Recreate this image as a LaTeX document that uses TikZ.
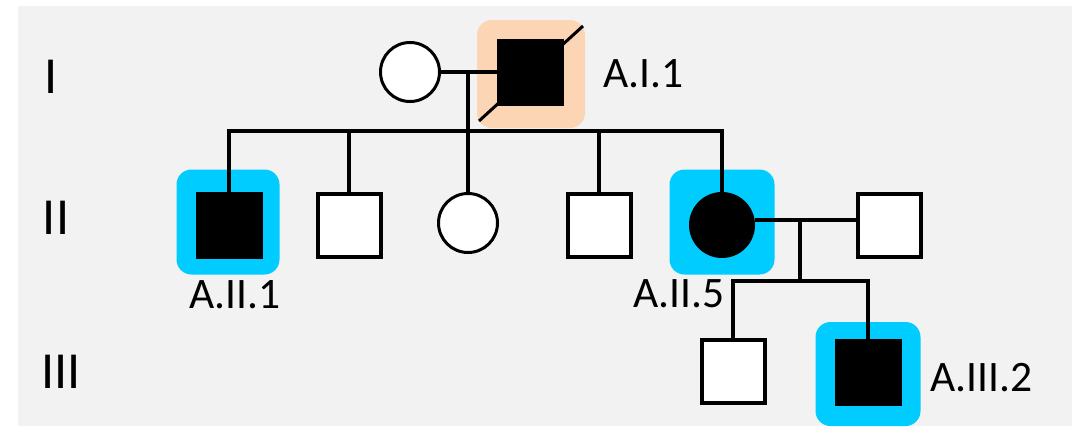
\documentclass[tikz,border=0pt]{standalone}
\usepackage{fontspec}
\setmainfont{Carlito}
\definecolor{bgray}{HTML}{F2F2F2}
\definecolor{peach}{HTML}{FCD5B5}
\definecolor{cyanb}{HTML}{00CCFF}
\begin{document}
\begin{tikzpicture}[x=1pt,y=-1pt,
  person/.style={draw=black,inner sep=0pt,line width=4pt},
  male/.style={person,rectangle,minimum size=63pt,fill=white},
  female/.style={person,circle,minimum size=59pt,line width=3pt,fill=white},
  affected/.style={fill=black},
  hl/.style={rectangle,rounded corners=15pt,inner sep=0pt,minimum width=105pt,minimum height=105pt},
  link/.style={line width=3.5pt},
  sibline/.style={line width=4.5pt,line cap=rect},
  lbl/.style={inner sep=0pt,font=\fontsize{43.5}{43.5}\selectfont},
  gen/.style={inner sep=0pt,font=\fontsize{52}{52}\selectfont,anchor=base}]
\useasboundingbox (0,0) rectangle (1078,426);
\fill[white] (0,0) rectangle (1078,426);
\fill[bgray] (18,6) rectangle (1072,426);
% highlight backdrops
\node[hl,fill=peach,minimum width=108pt,minimum height=108pt] (hI2) at (531,74) {};
\node[hl,fill=cyanb,minimum width=103pt] (hII1) at (228,222) {};
\node[hl,fill=cyanb] (hII5) at (722,222) {};
\node[hl,fill=cyanb,minimum height=104pt] (hIII2) at (868,374) {};
% individuals
\node[female] (I1) at (410,72) {};
\node[male,affected] (I2) at (530,72) {};
\node[male,affected] (II1) at (229,225) {};
\node[male] (II2) at (349,225) {};
\node[female] (II3) at (468,223) {};
\node[male] (II4) at (599,225) {};
\node[female,affected,minimum size=63pt] (II5) at (722,225) {};
\node[male] (II6) at (889,225) {};
\node[male] (III1) at (733,371) {};
\node[male,affected] (III2) at (868,372) {};
% deceased mark
\coordinate (dA) at (479,121);
\coordinate (dB) at (583,26);
\draw[line width=3pt] (dA) -- (dB);
% generation I mating and sibship
\coordinate (m1) at (468,72);
\coordinate (s1) at (468,131);
\draw[link] (I1.east) -- (I2.west);
\draw[link] (m1) -- (II3.north);
\draw[sibline] (II1.north |- s1) -- (II5.north |- s1);
\draw[link] (II1.north |- s1) -- (II1.north);
\draw[link] (II2.north |- s1) -- (II2.north);
\draw[link] (II4.north |- s1) -- (II4.north);
\draw[link] (II5.north |- s1) -- (II5.north);
% generation II mating and sibship
\coordinate (m2) at (800,220);
\coordinate (s2) at (800,281);
\draw[link] (m2 -| II5.east) -- (m2 -| II6.west);
\draw[link] (m2) -- (s2);
\draw[sibline] (III1.north |- s2) -- (III2.north |- s2);
\draw[link] (III1.north |- s2) -- (III1.north);
\draw[link] (III2.north |- s2) -- (III2.north);
% labels
\node[lbl,anchor=base west] (LI2) at (603,87) {A.I.1};
\node[lbl,anchor=base] (LII1) at (235,308) {A.II.1};
\node[lbl,anchor=base] (LII5) at (679,307) {A.II.5};
\node[lbl,anchor=base west] (LIII2) at (930,391) {A.III.2};
\node[gen] (gI) at (51.5,93) {I};
\node[gen] (gII) at (56,234) {II};
\node[gen] (gIII) at (61,388) {III};
\end{tikzpicture}
\end{document}
